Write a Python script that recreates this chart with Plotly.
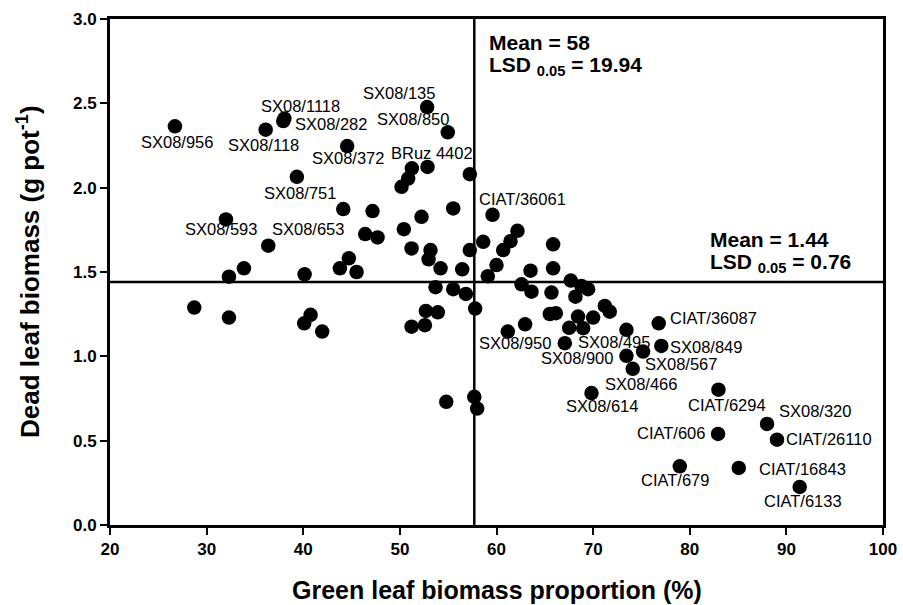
import plotly.graph_objects as go

# ---------------- data ----------------
green_pct = [26.72, 36.11, 37.93, 38.05, 39.34, 52.82, 54.96, 44.55, 51.24, 52.86,
             57.24, 50.86, 50.17, 32.0, 36.38, 33.86, 32.31, 28.72, 32.31, 44.14,
             47.17, 46.41, 47.69, 52.24, 55.52, 50.41, 51.21, 53.17, 52.97, 54.21,
             56.45, 57.24, 58.62, 59.1, 40.14, 44.72, 43.79, 45.52, 40.76, 40.1,
             41.96, 53.69, 55.52, 56.83, 57.79, 52.69, 53.93, 51.21, 52.59, 59.59,
             62.17, 61.45, 60.69, 60.0, 65.86, 63.52, 65.86, 62.59, 63.62, 65.69,
             67.69, 68.79, 69.48, 68.17, 65.52, 66.14, 68.44, 70.0, 71.21, 71.72,
             67.52, 68.97, 62.96, 61.17, 67.07, 73.45, 76.79, 77.06, 75.17, 73.45,
             74.1, 69.83, 88.0, 89.03, 82.93, 85.07, 91.38, 78.97, 82.97, 54.8,
             57.7, 58.0]
dead_biomass = [2.364, 2.344, 2.395, 2.41, 2.064, 2.478, 2.328, 2.247, 2.115, 2.123,
                2.08, 2.054, 2.005, 1.812, 1.656, 1.522, 1.472, 1.289, 1.23, 1.873,
                1.861, 1.725, 1.705, 1.827, 1.877, 1.754, 1.64, 1.63, 1.575, 1.522,
                1.516, 1.63, 1.679, 1.475, 1.486, 1.581, 1.522, 1.50, 1.246, 1.196,
                1.147, 1.41, 1.398, 1.37, 1.283, 1.269, 1.261, 1.176, 1.185, 1.839,
                1.744, 1.683, 1.63, 1.541, 1.664, 1.508, 1.522, 1.427, 1.383, 1.378,
                1.449, 1.417, 1.398, 1.354, 1.251, 1.256, 1.236, 1.23, 1.299, 1.265,
                1.169, 1.167, 1.19, 1.147, 1.078, 1.157, 1.196, 1.062, 1.028, 1.003,
                0.926, 0.782, 0.599, 0.506, 0.54, 0.338, 0.226, 0.348, 0.802, 0.73,
                0.76, 0.69]
genotype = ["SX08/956", "SX08/118", "SX08/1118", "SX08/282", "SX08/751", "SX08/135", "SX08/850",
            "SX08/372", "", "BRuz 4402", "", "", "", "SX08/593", "SX08/653", "", "", "", "", "",
            "", "", "", "", "", "", "", "", "", "", "", "", "", "", "", "", "", "", "", "",
            "", "", "", "", "", "", "", "", "", "CIAT/36061", "", "", "", "", "", "", "", "",
            "", "", "", "", "", "", "", "", "", "", "", "", "", "", "", "SX08/950", "SX08/495",
            "", "CIAT/36087", "SX08/849", "SX08/567", "SX08/900", "SX08/466", "SX08/614",
            "SX08/320", "CIAT/26110", "CIAT/606", "CIAT/16843", "CIAT/6133", "CIAT/679",
            "CIAT/6294", "", "", ""]

mean_green_line = 57.7
mean_dead_line = 1.44
x_tick_vals = [20, 30, 40, 50, 60, 70, 80, 90, 100]
y_tick_vals = [0.0, 0.5, 1.0, 1.5, 2.0, 2.5, 3.0]
y_tick_text = ["0.0", "0.5", "1.0", "1.5", "2.0", "2.5", "3.0"]
x_title = "Green leaf biomass proportion (%)"
y_title = "Dead leaf biomass (g pot<sup>-1</sup>)"

# ---------------- styling (label offsets in pixels) ----------------
label_offset = {
    "SX08/956": (2.5, 15.7), "SX08/118": (-2, 15.7), "SX08/1118": (17, -15),
    "SX08/282": (46.7, 5), "SX08/751": (3, 16.3), "SX08/135": (-28, -14),
    "SX08/850": (-34.5, -13), "SX08/372": (1, 12.3), "BRuz 4402": (4, -13.7),
    "SX08/593": (-5, 10), "SX08/653": (39.7, -16.7), "CIAT/36061": (29.6, -15.4),
    "SX08/950": (7, 11.6), "SX08/495": (49.5, -1.6), "CIAT/36087": (55, -5),
    "SX08/849": (45, 1), "SX08/567": (37.7, 12.8), "SX08/900": (-49, 2),
    "SX08/466": (8.3, 15.3), "SX08/614": (11, 12.7), "SX08/320": (48, -12.7),
    "CIAT/26110": (52, -1), "CIAT/606": (-47, -1), "CIAT/16843": (64, 1),
    "CIAT/6133": (3, 14.4), "CIAT/679": (-4.5, 13.3), "CIAT/6294": (9, 15),
}

FONT = "Liberation Sans, Arial, sans-serif"

fig = go.Figure()
fig.add_trace(go.Scatter(
    x=green_pct, y=dead_biomass, mode="markers",
    marker=dict(size=14.5, color="black", line=dict(width=0)),
    hoverinfo="skip", showlegend=False,
))

annotations = []
for xv, yv, name in zip(green_pct, dead_biomass, genotype):
    if not name:
        continue
    dx, dy = label_offset[name]
    annotations.append(dict(
        x=xv, y=yv, xref="x", yref="y", text=name, showarrow=False,
        xshift=dx, yshift=-dy, xanchor="center", yanchor="middle",
        font=dict(family=FONT, size=16.5, color="black"),
    ))

stat_font = dict(family=FONT, size=21, color="black")
annotations += [
    dict(x=59.0, y=2.861, xref="x", yref="y", text="<b>Mean = 58</b>", showarrow=False,
         xanchor="left", yanchor="middle", font=stat_font),
    dict(x=59.0, y=2.722, xref="x", yref="y", text="<b>LSD <sub>0.05</sub> = 19.94</b>",
         showarrow=False, xanchor="left", yanchor="middle", font=stat_font),
    dict(x=81.86, y=1.69, xref="x", yref="y", text="<b>Mean = 1.44</b>", showarrow=False,
         xanchor="left", yanchor="middle", font=stat_font),
    dict(x=81.86, y=1.555, xref="x", yref="y", text="<b>LSD <sub>0.05</sub> = 0.76</b>",
         showarrow=False, xanchor="left", yanchor="middle", font=stat_font),
    # axis titles
    dict(x=0.5, y=0, xref="paper", yref="paper", yshift=-64.5, text="<b>" + x_title + "</b>",
         showarrow=False, xanchor="center", yanchor="middle",
         font=dict(family=FONT, size=25, color="black")),
    dict(x=0, y=0.5, xref="paper", yref="paper", xshift=-82, text="<b>" + y_title + "</b>",
         textangle=-90, showarrow=False, xanchor="center", yanchor="middle",
         font=dict(family=FONT, size=26, color="black")),
]

shapes = [
    dict(type="line", xref="x", yref="y", x0=mean_green_line, x1=mean_green_line, y0=0, y1=3,
         line=dict(color="black", width=2.5), layer="below"),
    dict(type="line", xref="x", yref="y", x0=20, x1=100, y0=mean_dead_line, y1=mean_dead_line,
         line=dict(color="black", width=2.5), layer="below"),
]

fig.update_layout(
    width=903, height=605, autosize=False,
    margin=dict(l=110, r=20, t=19, b=80, pad=0),
    paper_bgcolor="white", plot_bgcolor="white",
    annotations=annotations, shapes=shapes,
    font=dict(family=FONT, color="black"),
    xaxis=dict(
        range=[20, 100], tickvals=x_tick_vals, ticktext=[str(v) for v in x_tick_vals],
        showgrid=False, zeroline=False, showline=True, linewidth=3, linecolor="black",
        mirror=True, ticks="outside", ticklen=7, tickwidth=2, tickcolor="black",
        tickfont=dict(family=FONT, size=17, color="black", weight="bold"),
        automargin=False,
    ),
    yaxis=dict(
        range=[0, 3], tickvals=y_tick_vals, ticktext=y_tick_text,
        showgrid=False, zeroline=False, showline=True, linewidth=3, linecolor="black",
        mirror=True, ticks="outside", ticklen=7, tickwidth=2, tickcolor="black",
        tickfont=dict(family=FONT, size=17, color="black", weight="bold"),
        automargin=False,
    ),
)

fig.write_html("out.html")
